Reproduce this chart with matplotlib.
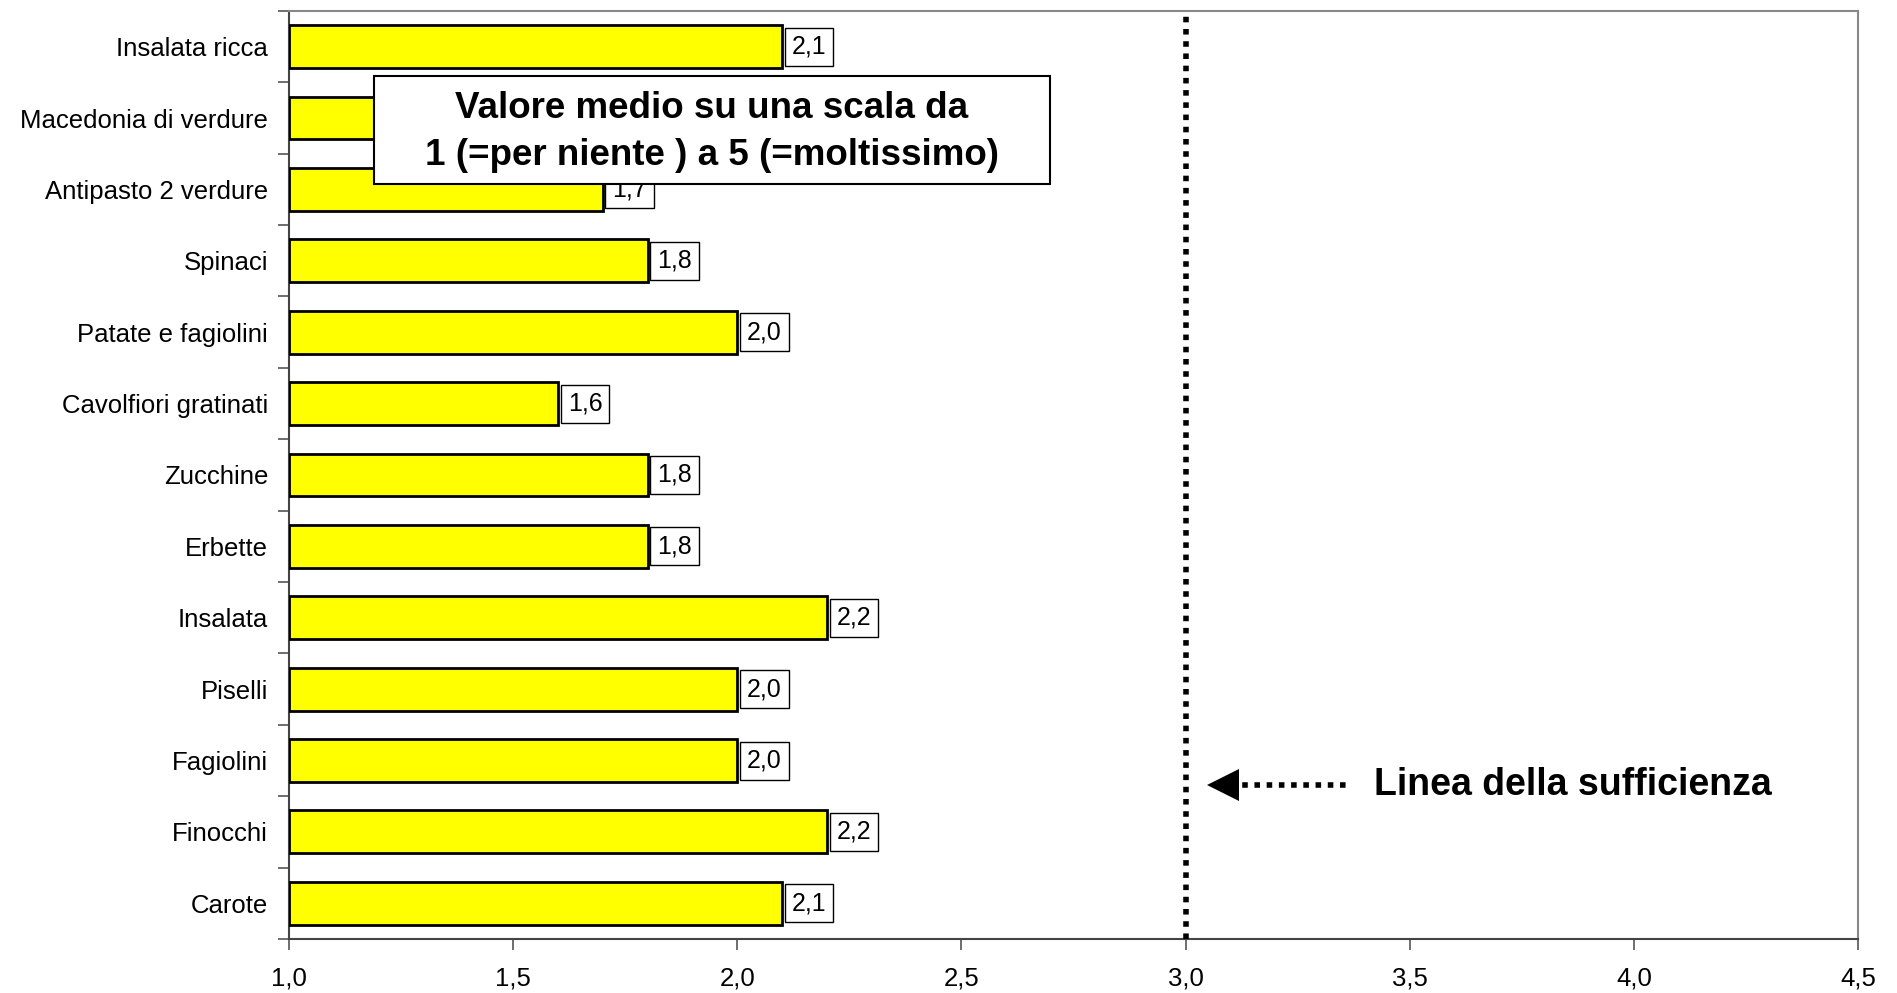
import matplotlib
matplotlib.use("Agg")
import matplotlib.pyplot as plt
from matplotlib.patches import Rectangle

plt.rcParams['font.family'] = ['Liberation Sans', 'DejaVu Sans']

categories = ["Insalata ricca", "Macedonia di verdure", "Antipasto 2 verdure", "Spinaci",
              "Patate e fagiolini", "Cavolfiori gratinati", "Zucchine", "Erbette",
              "Insalata", "Piselli", "Fagiolini", "Finocchi", "Carote"]
values = [2.1, 1.9, 1.7, 1.8, 2.0, 1.6, 1.8, 1.8, 2.2, 2.0, 2.0, 2.2, 2.1]
hidden_labels = ["Macedonia di verdure"]  # value label covered by the note box in the reference
xticks = [1.0, 1.5, 2.0, 2.5, 3.0, 3.5, 4.0, 4.5]
threshold = 3.0
base = 1.0

fig = plt.figure(figsize=(18.97, 9.93), dpi=100)
ax = fig.add_axes([0.1523, 0.0544, 0.9795 - 0.1523, 0.989 - 0.0544])

ypos = list(range(len(categories)))
ax.barh(ypos, [v - base for v in values], left=base, height=0.6,
        color='#FFFF00', edgecolor='black', linewidth=2, zorder=3)

for y, v, c in zip(ypos, values, categories):
    if c in hidden_labels:
        continue
    ax.annotate(f"{v:.1f}".replace('.', ','), xy=(v, y), xytext=(7, 0),
                textcoords='offset points', ha='left', va='center', fontsize=18,
                bbox=dict(boxstyle='square,pad=0.28', fc='white', ec='black', lw=1),
                zorder=4)

ax.set_xlim(1.0, 4.5)
ax.set_ylim(len(categories) - 0.5, -0.5)
ax.set_xticks(xticks)
ax.set_xticklabels([f"{t:.1f}".replace('.', ',') for t in xticks], fontsize=18.5)
ax.set_yticks(ypos)
ax.set_yticklabels(categories, fontsize=18.5)
ax.tick_params(axis='y', which='major', length=0, pad=15)
ax.set_yticks([i - 0.5 for i in range(len(categories) + 1)], minor=True)
ax.tick_params(axis='y', which='minor', length=8, width=1.2, color='#555555', direction='out')
ax.tick_params(axis='x', which='major', length=8, width=1.2, color='#555555', direction='out', pad=12)
for s in ax.spines.values():
    s.set_color('#888888')
    s.set_linewidth(1.5)
ax.spines['left'].set_color('#444444')
ax.spines['bottom'].set_color('#444444')

ax.axvline(threshold, color='black', linestyle=(0, (1, 1.2)), linewidth=4, zorder=5)

# Arrow + label
arrow_y = 10.35
ax.plot([3.10, 3.37], [arrow_y, arrow_y], color='black', lw=4,
        linestyle=(0, (1, 1.2)), zorder=6, solid_capstyle='butt')
ax.plot([3.083], [arrow_y], marker='<', markersize=23, color='black',
        markeredgewidth=0, zorder=6)
ax.text(3.42, arrow_y, "Linea della sufficienza", fontsize=27, fontweight='bold',
        ha='left', va='center', zorder=6)

# Note box
bx0, bx1 = 0.0540, 0.4850
by0, by1 = 0.8136, 0.9296
ax.add_patch(Rectangle((bx0, by0), bx1 - bx0, by1 - by0, transform=ax.transAxes,
                       fc='white', ec='black', lw=1.5, zorder=7))
ax.text((bx0 + bx1) / 2, (by0 + by1) / 2 - 0.002,
        "Valore medio su una scala da\n1 (=per niente ) a 5 (=moltissimo)",
        transform=ax.transAxes, ha='center', va='center', fontsize=26.5,
        fontweight='bold', linespacing=1.45, zorder=8)

fig.savefig("out.png", dpi=100)
